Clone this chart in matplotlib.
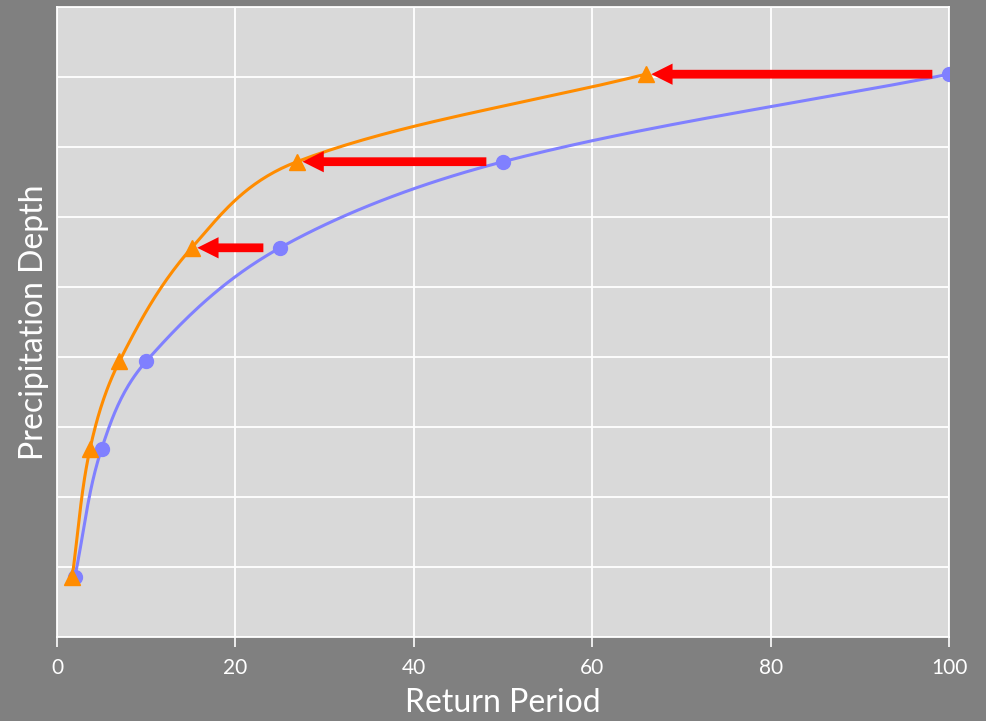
import numpy as np
import matplotlib
matplotlib.use('Agg')
import matplotlib.pyplot as plt

# return periods and depths (depth in grid units, no scale shown)
period_now = [2, 5, 10, 25, 50, 100]
depth_now = [0.86, 2.69, 3.94, 5.56, 6.79, 8.04]
period_new = [1.7, 3.7, 7.0, 15.1, 26.9, 66.0]
depth_new = [0.86, 2.69, 3.94, 5.56, 6.79, 8.04]
# which points get a shift arrow
arrow_idx = [3, 4, 5]
x_ticks = [0, 20, 40, 60, 80, 100]

blue = '#8080ff'
orange = '#ff8c00'
bg = '#808080'
panel = '#d9d9d9'

plt.rcParams['font.family'] = ['Lato', 'DejaVu Sans']


def smooth(x, y, n=40, sx=100.0, sy=9.0 * 0.7):
    # bezier smoothing, tangents scaled by segment length (like excel)
    p = np.column_stack([np.asarray(x, float) / sx, np.asarray(y, float) / sy])
    m = len(p)
    tang = np.zeros_like(p)
    for i in range(m):
        a = p[max(i - 1, 0)]
        b = p[min(i + 1, m - 1)]
        d = b - a
        tang[i] = d / np.linalg.norm(d)
    t = np.linspace(0, 1, n)[:, None]
    out = []
    for i in range(m - 1):
        L = np.linalg.norm(p[i + 1] - p[i])
        c0 = p[i]
        c1 = p[i] + tang[i] * L / 3
        c2 = p[i + 1] - tang[i + 1] * L / 3
        c3 = p[i + 1]
        out.append((1 - t) ** 3 * c0 + 3 * (1 - t) ** 2 * t * c1
                   + 3 * (1 - t) * t ** 2 * c2 + t ** 3 * c3)
    out = np.vstack(out)
    return out[:, 0] * sx, out[:, 1] * sy


fig = plt.figure(figsize=(9.87, 7.21), dpi=100, facecolor=bg)
ax = fig.add_axes([0.0578, 0.1165, 0.9037, 0.8738])
ax.set_facecolor(panel)

sx, sy = smooth(period_now, depth_now)
ax.plot(sx, sy, color=blue, lw=2.2, zorder=3)
ax.plot(period_now, depth_now, 'o', color=blue, ms=10, zorder=4)

sx, sy = smooth(period_new, depth_new)
ax.plot(sx, sy, color=orange, lw=2.2, zorder=3)
ax.plot(period_new, depth_new, '^', color=orange, ms=12, zorder=4)

for i in arrow_idx:
    ax.annotate('', xy=(period_new[i], depth_new[i]),
                xytext=(period_now[i], depth_now[i]),
                arrowprops=dict(arrowstyle='simple,head_width=0.85,head_length=0.85,tail_width=0.35',
                                mutation_scale=18, color='#ff0000', lw=0,
                                shrinkA=12, shrinkB=4), zorder=5)

ax.set_xlim(0, 100)
ax.set_ylim(0, 9)
ax.set_xticks(x_ticks)
ax.set_yticks(np.arange(0, 10))
ax.set_yticklabels([])
ax.tick_params(axis='y', length=0)
ax.tick_params(axis='x', colors='white', labelsize=15, length=7, width=1.2, pad=8)
ax.grid(True, color='white', lw=1.3)
ax.set_axisbelow(True)
for s in ax.spines.values():
    s.set_color('white')
    s.set_linewidth(1.3)

ax.set_xlabel('Return Period', color='white', fontsize=23, labelpad=7)
ax.set_ylabel('Precipitation Depth', color='white', fontsize=23, labelpad=2)

fig.savefig('out.png', dpi=100, facecolor=bg)
